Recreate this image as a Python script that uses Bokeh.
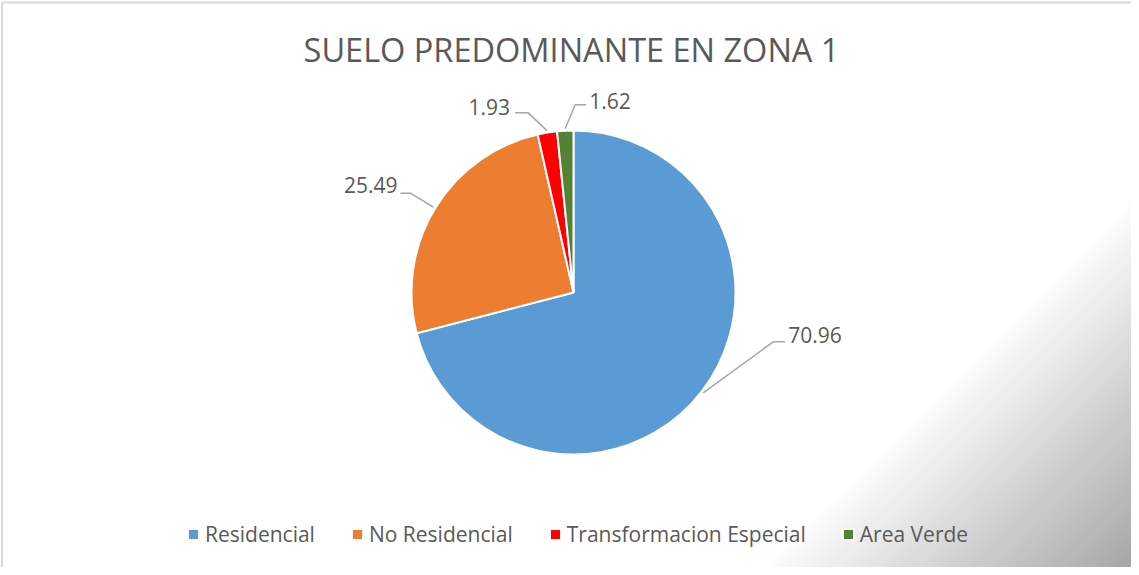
import numpy as np
from bokeh.plotting import figure
from bokeh.models import ColumnDataSource, Range1d, Legend, LegendItem
from bokeh.embed import file_html
from bokeh.resources import INLINE
from bokeh.core.properties import value

# ---------------- data ----------------
categories = ["Residencial", "No Residencial", "Transformacion Especial", "Area Verde"]
values = [70.96, 25.49, 1.93, 1.62]
value_labels = ["70.96", "25.49", "1.93", "1.62"]
colors = ["#5B9BD5", "#ED7D31", "#FF0000", "#548235"]
title_text = "SUELO PREDOMINANTE EN ZONA 1"

# ---------------- layout (page pixel coordinates) ----------------
W, H = 1131, 567
X0, Y0 = 8, 8
PX1, PY1 = X0 + W, Y0 + H


def Y(py):
    return PY1 - py


CX, CY, R = 581, 300, 162
TEXT = "#595959"
FONT = "Open Sans"

p = figure(width=W, height=H, x_range=Range1d(X0, PX1), y_range=Range1d(0, H),
           output_backend="svg", toolbar_location=None,
           x_axis_type=None, y_axis_type=None, min_border=0)
p.outline_line_color = None
p.grid.visible = False
p.background_fill_color = "white"
p.border_fill_color = "white"

# ---------------- background gradient (bottom-right corner) ----------------
c_start, c_end, g_end = 1340.0, PX1 + PY1, 166.0
steps = np.linspace(c_start, c_end, 95)
gx, gy, gc = [], [], []
for c0, c1 in zip(steps[:-1], steps[1:]):
    cm = 0.5 * (c0 + c1)
    g = int(round(255 - (cm - c_start) / (c_end - c_start) * (255 - g_end)))
    col = "#%02x%02x%02x" % (g, g, g)
    xs = [PX1, c0 - PY1, c1 - PY1, PX1]
    ys = [Y(c0 - PX1), Y(PY1), Y(PY1), Y(c1 - PX1)]
    gx.append(xs)
    gy.append(ys)
    gc.append(col)
p.patches(gx, gy, fill_color=gc, line_color=gc, line_width=1)

# chart area border (left and top edges visible)
p.segment(x0=[9.5, 9.5], y0=[Y(10), Y(10)], x1=[9.5, PX1], y1=[Y(PY1), Y(10)],
          line_color="#D9D9D9", line_width=2)

# ---------------- pie ----------------
vals = np.array(values, dtype=float)
frac = vals / vals.sum()
cum = np.concatenate([[0.0], np.cumsum(frac)])
start = np.pi / 2 - cum[:-1] * 2 * np.pi
end = np.pi / 2 - cum[1:] * 2 * np.pi

src = ColumnDataSource(dict(category=categories, value=values, color=colors,
                            start=start, end=end))
wedges = p.wedge(x=CX, y=Y(CY), radius=R, start_angle="start", end_angle="end",
                 direction="clock", fill_color="color", line_color="white",
                 line_width=2, source=src)

# ---------------- data labels with leader lines ----------------
mid = (start + end) / 2
label_r = R + 2
ax = CX + label_r * np.cos(mid)
ay = CY - label_r * np.sin(mid)
elbow = [(70, -51), (-23, -14), (-19, -18), (10, -24)]
tail = [12, -10, -13, 11]
txt_dx = [3, -3, -5, 3]
txt_dy = [-7, -8, -6, -4]
aligns = ["left", "right", "right", "left"]

lx, ly, tx, ty = [], [], [], []
for i in range(len(values)):
    ex, ey = ax[i] + elbow[i][0], ay[i] + elbow[i][1]
    endx = ex + tail[i]
    lx.append([ax[i], ex, endx])
    ly.append([Y(ay[i]), Y(ey), Y(ey)])
    tx.append(endx + txt_dx[i])
    ty.append(Y(ey + txt_dy[i]))
p.multi_line(lx, ly, line_color="#A6A6A6", line_width=1.5)
lab_src = ColumnDataSource(dict(x=tx, y=ty, text=value_labels, align=aligns))
p.text(x="x", y="y", text="text", text_align="align", text_baseline="middle",
       text_font=value(FONT), text_font_size="21px", text_color=TEXT, source=lab_src)

# ---------------- title ----------------
p.text(x=[579], y=[Y(57)], text=[title_text], text_align="center", text_baseline="middle",
       text_font=value(FONT), text_font_size="32.5px", text_color=TEXT)

# ---------------- legend ----------------
items = [LegendItem(label=categories[i], renderers=[wedges], index=i) for i in range(len(categories))]
legend = Legend(items=items, orientation="horizontal", location=(186, 19),
                glyph_width=14, glyph_height=14, label_standoff=5, spacing=35,
                padding=0, margin=0, border_line_color=None, background_fill_alpha=0,
                label_text_font=FONT, label_text_font_size="21px", label_text_color=TEXT,
                label_height=20)
p.add_layout(legend, "center")

open("out.html", "w").write(file_html(p, INLINE))
